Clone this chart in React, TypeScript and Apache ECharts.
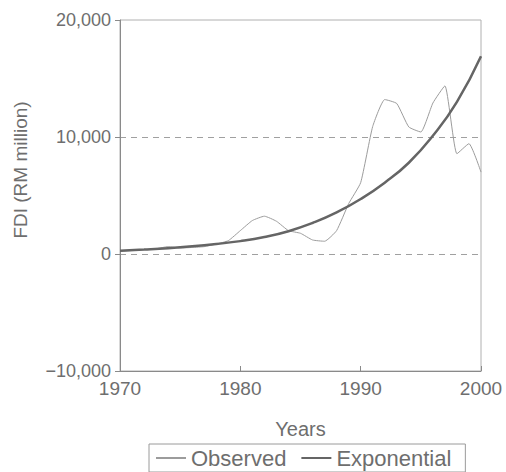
import React, { useEffect, useRef } from "react";
import * as echarts from "echarts";

const years = [1970, 1971, 1972, 1973, 1974, 1975, 1976, 1977, 1978, 1979, 1980, 1981, 1982, 1983, 1984, 1985, 1986, 1987, 1988, 1989, 1990, 1991, 1992, 1993, 1994, 1995, 1996, 1997, 1998, 1999, 2000];
const observed = [230, 300, 380, 450, 630, 510, 560, 630, 850, 1140, 2000, 2860, 3230, 2800, 2000, 1770, 1200, 1090, 2000, 4300, 6100, 10900, 13200, 12860, 10860, 10430, 12900, 14370, 8570, 9430, 7000];
const expYears = [1970, 1972, 1974, 1976, 1978, 1980, 1982, 1984, 1986, 1988, 1990, 1992, 1994, 1996, 1998, 2000];
const exponential = [280, 380, 500, 660, 860, 1100, 1450, 1950, 2650, 3550, 4700, 6100, 7800, 10100, 13000, 16900];
const yTicks = [-10000, 0, 10000, 20000];
const xTicks = [1970, 1980, 1990, 2000];

const FONT = "Liberation Sans, Arial, sans-serif";
const TXT = "#6e6e6e";

function fmt(v: number): string {
  const s = Math.abs(v).toLocaleString("en-US");
  return v < 0 ? "\u2212" + s : s;
}

export default function App() {
  const ref = useRef<HTMLDivElement>(null);
  useEffect(() => {
    if (!ref.current) return;
    const chart = echarts.init(ref.current, undefined, { renderer: "svg" });
    chart.setOption({
      animation: false,
      backgroundColor: "#ffffff",
      grid: {
        left: 120,
        right: 25,
        top: 20,
        bottom: 101,
        show: true,
        borderColor: "#b0b0b0",
        borderWidth: 1,
      },
      xAxis: {
        type: "value",
        min: xTicks[0],
        max: xTicks[xTicks.length - 1],
        interval: 10,
        name: "Years",
        nameLocation: "middle",
        nameGap: 48,
        nameTextStyle: { color: TXT, fontFamily: FONT, fontSize: 20 },
        axisLine: { show: true, onZero: false, lineStyle: { color: "#8a8a8a", width: 1 } },
        axisTick: { show: true, inside: true, length: 5, lineStyle: { color: "#8a8a8a" } },
        axisLabel: { color: TXT, fontFamily: FONT, fontSize: 19, margin: 8, formatter: (v: number) => String(v) },
        splitLine: { show: false },
      },
      yAxis: {
        type: "value",
        min: yTicks[0],
        max: yTicks[yTicks.length - 1],
        interval: 10000,
        axisLine: { show: true, onZero: false, lineStyle: { color: "#8a8a8a", width: 1 } },
        axisTick: { show: true, inside: false, length: 5, lineStyle: { color: "#8a8a8a" } },
        axisLabel: { color: TXT, fontFamily: FONT, fontSize: 18, margin: 9, formatter: (v: number) => fmt(v) },
        splitLine: {
          show: true,
          showMinLine: false,
          showMaxLine: false,
          lineStyle: { color: "#a0a0a0", type: [6, 5], width: 1 },
        },
      },
      legend: {
        top: 444,
        left: 149,
        itemWidth: 30,
        itemHeight: 10,
        itemGap: 14,
        padding: [3, 14, 3, 6],
        borderColor: "#9a9a9a",
        borderWidth: 1,
        itemStyle: { opacity: 0 },
        textStyle: { color: TXT, fontFamily: FONT, fontSize: 22 },
        data: ["Observed", "Exponential"],
      },
      graphic: [
        {
          type: "text",
          x: 20,
          y: 170,
          rotation: Math.PI / 2,
          style: {
            text: "FDI (RM million)",
            fill: TXT,
            font: "19px " + FONT,
            align: "center",
            verticalAlign: "middle",
          },
        },
      ],
      series: [
        {
          name: "Observed",
          type: "line",
          symbol: "none",
          smooth: 0.15,
          data: years.map((y, i) => [y, observed[i]]),
          lineStyle: { color: "#9c9c9c", width: 1 },
          itemStyle: { color: "#9c9c9c" },
          z: 2,
        },
        {
          name: "Exponential",
          type: "line",
          symbol: "none",
          smooth: true,
          data: expYears.map((y, i) => [y, exponential[i]]),
          lineStyle: { color: "#656565", width: 2.5 },
          itemStyle: { color: "#656565" },
          z: 3,
        },
      ],
    });
    return () => chart.dispose();
  }, []);
  return <div ref={ref} style={{ width: 506, height: 472, position: "absolute", left: 0, top: 0 }} />;
}
